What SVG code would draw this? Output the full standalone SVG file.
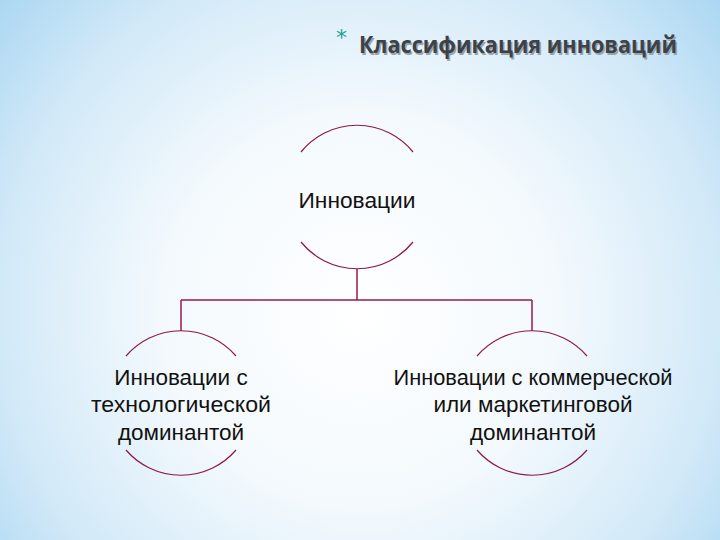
<svg xmlns="http://www.w3.org/2000/svg" width="720" height="540" viewBox="0 0 720 540">
<defs>
<radialGradient id="bg" cx="360" cy="310" r="500" gradientUnits="userSpaceOnUse">
<stop offset="0" stop-color="#ffffff"/>
<stop offset="0.4" stop-color="#f3f9fd"/>
<stop offset="0.72" stop-color="#d2e9f8"/>
<stop offset="1" stop-color="#a3d3f1"/>
</radialGradient>
<style>
.arc{fill:none;stroke:#8e1848;stroke-width:1.2}
.con{fill:none;stroke:#9a1a4c;stroke-width:1.5}
.lbl{font-family:"Liberation Sans",Arial,sans-serif;font-size:22.5px;fill:#111;text-anchor:middle}
</style>
</defs>
<rect width="720" height="540" fill="url(#bg)"/>
<g id="title">
<text x="336" y="45" font-family="'DejaVu Sans',sans-serif" font-size="22" fill="#1aa39a">*</text>
<text x="359" y="53" font-family="'Open Sans','Liberation Sans',sans-serif" font-weight="bold" font-size="24" fill="#9aa4ad" textLength="318" lengthAdjust="spacingAndGlyphs" transform="translate(1.5,1.5)">Классификация инноваций</text>
<text x="359" y="53" font-family="'Open Sans','Liberation Sans',sans-serif" font-weight="bold" font-size="24" fill="#3c4248" textLength="318" lengthAdjust="spacingAndGlyphs">Классификация инноваций</text>
</g>
<g id="connectors">
<path class="con" d="M357,269 V300 M181,300 H532 M181,300 V331 M532,300 V331"/>
</g>
<g id="node-root">
<path class="arc" d="M301,152 A72,72 0 0 1 413,152"/>
<path class="arc" d="M301,242 A72,72 0 0 0 413,242"/>
<text class="lbl" x="357" y="208" textLength="117" lengthAdjust="spacingAndGlyphs">Инновации</text>
</g>
<g id="node-tech">
<path class="arc" d="M126,356 A72.5,72.5 0 0 1 236,356"/>
<path class="arc" d="M126,450 A72.5,72.5 0 0 0 236,450"/>
<text class="lbl" x="181" y="385">Инновации с</text>
<text class="lbl" x="181" y="412" textLength="180" lengthAdjust="spacingAndGlyphs">технологической</text>
<text class="lbl" x="181" y="440">доминантой</text>
</g>
<g id="node-comm">
<path class="arc" d="M477,356 A72.5,72.5 0 0 1 587,356"/>
<path class="arc" d="M477,450 A72.5,72.5 0 0 0 587,450"/>
<text class="lbl" x="533" y="385" textLength="279" lengthAdjust="spacingAndGlyphs">Инновации с коммерческой</text>
<text class="lbl" x="533" y="412">или маркетинговой</text>
<text class="lbl" x="533" y="440">доминантой</text>
</g>
</svg>
